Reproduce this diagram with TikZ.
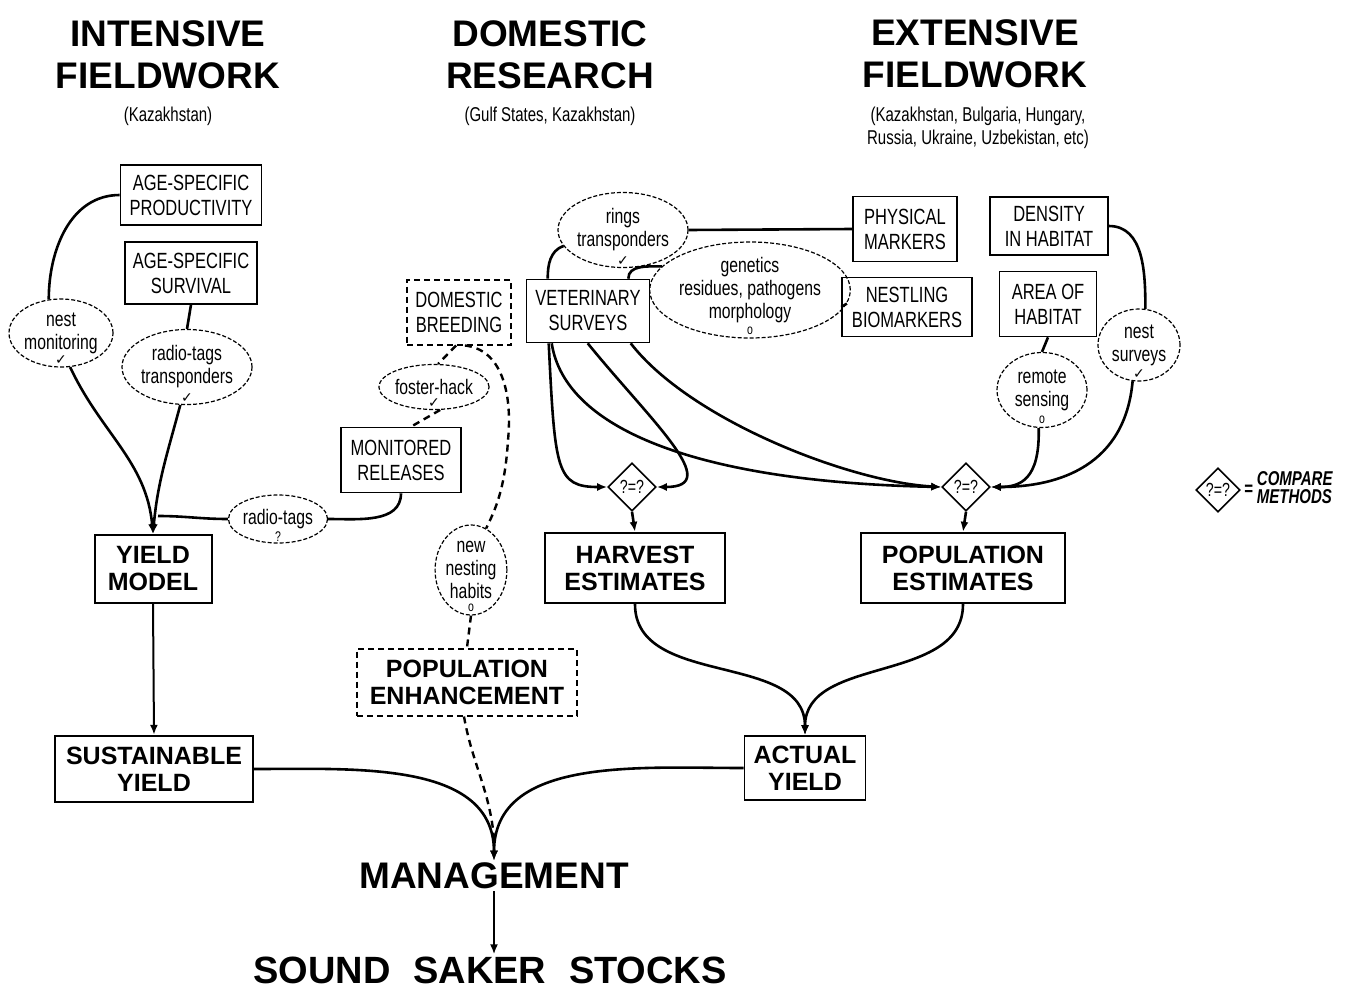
\documentclass[tikz,border=0pt]{standalone}
\usepackage{fontspec}
\setmainfont{Liberation Sans}
\newfontfamily\narrowfont[FakeStretch=0.75]{Liberation Sans}
\newfontfamily\symfont{DejaVu Sans}
\usetikzlibrary{shapes.geometric,arrows.meta}

\tikzset{
  head/.style={font=\fontsize{37}{42}\selectfont\bfseries, align=center, inner sep=0pt},
  place/.style={font=\narrowfont\fontsize{20}{23}\selectfont, align=center, inner sep=0pt},
  smallbox/.style={draw, line width=1.6pt, font=\narrowfont\fontsize{22}{25}\selectfont, align=center, inner sep=0pt},
  bigbox/.style={draw, line width=2.4pt, font=\fontsize{25}{27}\selectfont\bfseries, align=center, inner sep=0pt},
  dashbox/.style={draw, line width=2pt, dash pattern=on 6pt off 4pt, align=center, inner sep=0pt},
  method/.style={ellipse, draw, line width=1.2pt, dash pattern=on 4pt off 2pt, font=\narrowfont\fontsize{21}{23}\selectfont, align=center, inner sep=0pt},
  cmp/.style={diamond, draw, line width=1.6pt, minimum size=48pt, inner sep=0pt, font=\narrowfont\fontsize{19}{19}\selectfont},
  sign/.style={inner sep=0pt, yshift=12pt, font=\narrowfont\fontsize{14}{14}\selectfont},
  link/.style={line width=2.6pt},
  arr/.style={link, -{Latex[length=10pt,width=8pt]}},
  dlink/.style={line width=2.4pt, dash pattern=on 7pt off 5pt},
}

\begin{document}
\begin{tikzpicture}[x=1pt, y=-1pt]
    \useasboundingbox (0,0) rectangle (1371,990);

    % Column heads
    \node[head] (hint) at (168,55) {INTENSIVE\\FIELDWORK};
    \node[place] (hintsub) at (168,116) {(Kazakhstan)};
    \node[head] (hdom) at (550,55) {DOMESTIC\\RESEARCH};
    \node[place] (hdomsub) at (550,116) {(Gulf States, Kazakhstan)};
    \node[head] (hext) at (975,54) {EXTENSIVE\\FIELDWORK};
    \node[place] (hextsub) at (978,128) {(Kazakhstan, Bulgaria, Hungary,\\ Russia, Ukraine, Uzbekistan, etc)};

    % Intensive fieldwork
    \node[smallbox, minimum width=141pt, minimum height=60pt] (prod) at (191,195) {AGE-SPECIFIC\\PRODUCTIVITY};
    \node[smallbox, minimum width=132pt, minimum height=62pt] (surv) at (191,273) {AGE-SPECIFIC\\SURVIVAL};
    \node[method, minimum width=102pt, minimum height=68pt, label={[sign]below:{\symfont ✓}}] (nestmon) at (61,333) {nest\\monitoring};
    \node[method, minimum width=123pt, minimum height=75pt, label={[sign]below:{\symfont ✓}}] (radtr) at (187,367) {radio-tags\\transponders};
    \node[bigbox, line width=2pt, minimum width=117pt, minimum height=68pt] (ymodel) at (153,569) {YIELD\\MODEL};
    \node[method, minimum width=87pt, minimum height=48pt, label={[sign]below:?}] (radq) at (278,519) {radio-tags};
    \node[bigbox, minimum width=198pt, minimum height=66pt] (sustyld) at (154,769) {SUSTAINABLE\\YIELD};

    % Domestic research
    \node[dashbox, font=\narrowfont\fontsize{22}{25}\selectfont, minimum width=104pt, minimum height=65pt] (dombreed) at (459,312) {DOMESTIC\\BREEDING};
    \node[method, minimum width=108pt, minimum height=45pt, label={[sign]below:{\symfont ✓}}] (foster) at (434,387) {foster-hack};
    \node[smallbox, minimum width=120pt, minimum height=65pt] (monrel) at (401,460) {MONITORED\\RELEASES};
    \node[method, minimum width=68pt, minimum height=90pt, label={[sign]below:o}] (nesthab) at (471,570) {new\\nesting\\habits};
    \node[dashbox, font=\fontsize{25}{27}\selectfont\bfseries, minimum width=220pt, minimum height=67pt] (popenh) at (467,682) {POPULATION\\ENHANCEMENT};

    % Extensive fieldwork
    \node[method, minimum width=123pt, minimum height=75pt, label={[sign]below:{\symfont ✓}}] (rings) at (623,230) {rings\\transponders};
    \node[smallbox, minimum width=104pt, minimum height=65pt] (physmark) at (905,229) {PHYSICAL\\MARKERS};
    \node[smallbox, minimum width=123pt, minimum height=63pt] (vetsurv) at (588,311) {VETERINARY\\SURVEYS};
    \node[method, minimum width=170pt, minimum height=96pt, label={[sign]below:o}] (genet) at (750,290) {genetics\\residues, pathogens\\morphology};
    \node[smallbox, minimum width=130pt, minimum height=59pt] (nestbio) at (907,307) {NESTLING\\BIOMARKERS};
    \node[smallbox, minimum width=118pt, minimum height=58pt] (density) at (1049,226) {DENSITY\\IN HABITAT};
    \node[smallbox, minimum width=97pt, minimum height=65pt] (areahab) at (1048,304) {AREA OF\\HABITAT};
    \node[method, minimum width=82pt, minimum height=72pt, label={[sign]below:{\symfont ✓}}] (nestsurv) at (1139,345) {nest\\surveys};
    \node[method, minimum width=90pt, minimum height=75pt, label={[sign]below:o}] (remsens) at (1042,390) {remote\\sensing};
    \node[cmp] (cmpH) at (632,487) {?=?};
    \node[cmp] (cmpP) at (966,487) {?=?};
    \node[bigbox, minimum width=180pt, minimum height=70pt] (harvest) at (635,568) {HARVEST\\ESTIMATES};
    \node[bigbox, minimum width=204pt, minimum height=70pt] (popest) at (963,568) {POPULATION\\ESTIMATES};
    \node[bigbox, line width=1.8pt, minimum width=121pt, minimum height=64pt] (actyld) at (805,768) {ACTUAL\\YIELD};

    % Legend
    \node[cmp, minimum size=44pt] (cmpL) at (1218,490) {?=?};
    \node[anchor=west, inner sep=0pt, font=\narrowfont\fontsize{20}{20}\selectfont\bfseries\itshape] (cmpLtxt) at (1244,490)
        {=\hspace{4pt}\begin{tabular}{@{}l@{}}COMPARE\\[-2pt]METHODS\end{tabular}};

    % Outcome
    \node[inner sep=2pt, font=\fontsize{37}{40}\selectfont\bfseries] (mgmt) at (494,876) {MANAGEMENT};
    \node[inner sep=2pt, font=\fontsize{38}{40}\selectfont\bfseries] (stocks) at (490,970) {SOUND\hspace{0.6em}SAKER\hspace{0.6em}STOCKS};

    % Intensive links
    \draw[link] (prod.west) to[out=180, in=90] (nestmon.110);
    \draw[arr] (nestmon.-75) to[out=-65, in=95] (ymodel.north);
    \draw[link] (surv.south) -- (radtr.north);
    \draw[arr] (radtr.-100) to[out=-105, in=85] (ymodel.north);
    \draw[link] (radq.west) to[out=180, in=0] ([xshift=5pt, yshift=18pt]ymodel.north);
    \draw[link] (monrel.south) to[out=-90, in=0] (radq.east);
    \draw[arr, line width=2pt] (ymodel.south) -- (sustyld.north);

    % Domestic links
    \draw[dlink] (dombreed.-95) -- (foster.80);
    \draw[dlink] (foster.-75) -- ([xshift=10pt]monrel.north);
    \draw[dlink] (dombreed.-80) .. controls (505,350) and (512,400) .. (508,440) .. controls (505,490) and (495,510) .. (nesthab.70);
    \draw[dlink] (nesthab.south) -- (popenh.north);
    \draw[dlink] (popenh.-95) to[out=-80, in=95] ([yshift=22pt]mgmt.north);

    % Extensive links
    \draw[link] (rings.195) to[out=200, in=90] ([xshift=22pt]vetsurv.north west);
    \draw[link] (rings.east) -- (physmark.west);
    \draw[link] ([xshift=-22pt]vetsurv.north east) to[out=90, in=180] (genet.165);
    \draw[link] (genet.-8) -- (nestbio.west);
    \draw[arr] ([xshift=23pt]vetsurv.south west) .. controls (555,470) and (556,487) .. (cmpH.west);
    \draw[arr] ([xshift=26pt]vetsurv.south west) .. controls (565,430) and (700,482) .. (cmpP.west);
    \draw[arr] ([xshift=62pt]vetsurv.south west) .. controls (650,420) and (725,487) .. (cmpH.east);
    \draw[arr] ([xshift=105pt]vetsurv.south west) .. controls (690,420) and (850,482) .. (cmpP.west);
    \draw[link] (density.east) to[out=0, in=90] (nestsurv.80);
    \draw[link] (areahab.south) -- (remsens.north);
    \draw[arr] (remsens.-95) .. controls (1040,480) and (1020,487) .. (cmpP.east);
    \draw[arr] (nestsurv.-100) .. controls (1125,465) and (1060,487) .. (cmpP.east);
    \draw[arr] (cmpH.south) -- (harvest.north);
    \draw[arr] (cmpP.south) -- (popest.north);
    \draw[arr] (harvest.south) to[out=-90, in=90] (actyld.north);
    \draw[arr] (popest.south) to[out=-90, in=90] (actyld.north);

    % Into management
    \draw[arr] (sustyld.east) to[out=0, in=90] (mgmt.north);
    \draw[arr] (actyld.west) to[out=180, in=90] (mgmt.north);
    \draw[arr, line width=2pt] (mgmt.south) -- (mgmt.south |- stocks.north);
\end{tikzpicture}
\end{document}
